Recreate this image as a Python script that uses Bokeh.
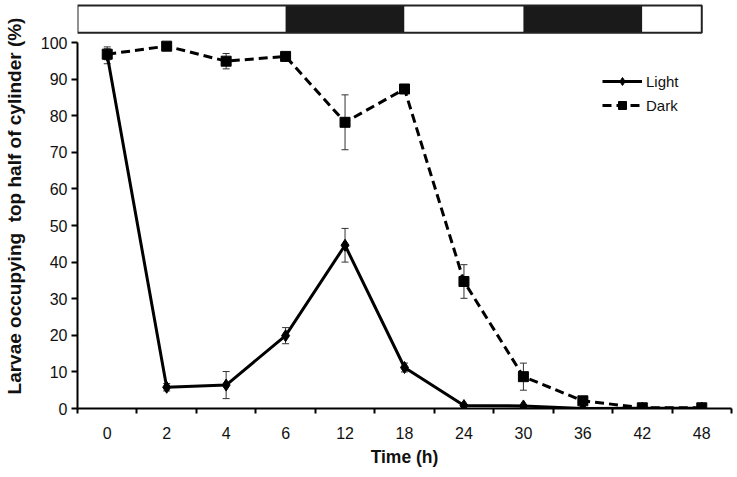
from bokeh.plotting import figure
from bokeh.models import (Range1d, FixedTicker, ColumnDataSource, Whisker, TeeHead,
                          Legend, LegendItem)
from bokeh.embed import file_html
from bokeh.resources import INLINE

# ---- data ----
times = ["0", "2", "4", "6", "12", "18", "24", "30", "36", "42", "48"]
light = [96.5, 5.8, 6.4, 19.9, 44.6, 11.2, 0.8, 0.7, 0.0, 0.1, 0.1]
light_err = [2.3, 1.0, 3.7, 2.2, 4.6, 1.2, 0.3, 0.3, 0.0, 0.0, 0.0]
dark = [96.8, 99.0, 94.9, 96.2, 78.2, 87.3, 34.7, 8.7, 2.1, 0.2, 0.2]
dark_err = [1.5, 0.5, 2.1, 0.8, 7.5, 1.0, 4.6, 3.7, 0.5, 0.0, 0.0]
y_ticks = [0, 10, 20, 30, 40, 50, 60, 70, 80, 90, 100]
phase_start = ["0", "6", "18", "30", "42"]
phase_end = ["6", "18", "30", "42", "48"]
phase_kind = ["light", "dark", "light", "dark", "light"]

FONT = "Liberation Sans"

xs = [i + 0.5 for i in range(len(times))]

p = figure(width=736, height=476, output_backend="svg", toolbar_location=None,
           x_range=Range1d(0, len(times)), y_range=Range1d(0, 110.66),
           min_border_left=73, min_border_right=5, min_border_top=3,
           min_border_bottom=68)
p.outline_line_color = None
p.xgrid.visible = False
p.ygrid.visible = False

# x axis: labels at centres, ticks at boundaries
p.xaxis.ticker = FixedTicker(ticks=xs, minor_ticks=list(range(len(times) + 1)))
p.xaxis.major_label_overrides = {x: t for x, t in zip(xs, times)}
p.xaxis.major_tick_line_color = None
p.xaxis.major_tick_out = 0
p.xaxis.major_tick_in = 0
p.xaxis.minor_tick_line_color = "black"
p.xaxis.minor_tick_line_width = 2
p.xaxis.minor_tick_out = 5
p.xaxis.minor_tick_in = 0
p.xaxis.axis_line_width = 2
p.xaxis.major_label_standoff = 13
p.xaxis.axis_label = "Time (h)"
p.xaxis.axis_label_standoff = 5

p.yaxis.ticker = FixedTicker(ticks=y_ticks)
p.yaxis.bounds = (0, 100)
p.yaxis.minor_tick_line_color = None
p.yaxis.major_tick_line_width = 2
p.yaxis.major_tick_out = 6
p.yaxis.major_tick_in = 0
p.yaxis.axis_line_width = 2
p.yaxis.major_label_standoff = 4
p.yaxis.axis_label = "Larvae occupying\u00a0 top half of cylinder (%)"
p.yaxis.axis_label_standoff = 13

for ax in (p.xaxis[0], p.yaxis[0]):
    ax.major_label_text_font = FONT
    ax.major_label_text_font_size = "16px"
    ax.major_label_text_color = "#111111"
    ax.axis_label_text_font = FONT
    ax.axis_label_text_font_style = "bold"
    ax.axis_label_text_color = "#111111"
p.xaxis.axis_label_text_font_size = "17.5px"
p.yaxis.axis_label_text_font_size = "19px"

# ---- photoperiod bar ----
def pos(lbl):
    return times.index(lbl) + 0.5

lefts = [0 if i == 0 else pos(s) for i, s in enumerate(phase_start)]
rights = [pos(e) for e in phase_end]
fills = ["white" if k == "light" else "#1a1a1a" for k in phase_kind]
p.quad(left=lefts, right=rights, bottom=102.7, top=110.1,
       fill_color=fills, line_color=None)
p.quad(left=[lefts[0]], right=[rights[-1]], bottom=102.7, top=110.1,
       fill_color=None, line_color="#222222", line_width=2)

# ---- error bars ----
ls = ColumnDataSource(dict(x=xs, y=light,
                           lo=[v - e for v, e in zip(light, light_err)],
                           hi=[v + e for v, e in zip(light, light_err)]))
ds = ColumnDataSource(dict(x=xs, y=dark,
                           lo=[v - e for v, e in zip(dark, dark_err)],
                           hi=[v + e for v, e in zip(dark, dark_err)]))
for src in (ls, ds):
    w = Whisker(source=src, base="x", lower="lo", upper="hi",
                line_color="#333333", line_width=1,
                upper_head=TeeHead(size=7, line_color="#333333", line_width=1),
                lower_head=TeeHead(size=7, line_color="#333333", line_width=1))
    p.add_layout(w)

# ---- series ----
r_dl = p.line("x", "y", source=ds, line_color="black", line_width=3,
              line_dash="9 5")
r_dm = p.scatter("x", "y", source=ds, marker="square", size=10,
                 fill_color="black", line_color="black")
r_ll = p.line("x", "y", source=ls, line_color="black", line_width=3)
r_lm = p.scatter("x", "y", source=ls, marker="diamond", size=12,
                 fill_color="black", line_color="black")

legend = Legend(items=[LegendItem(label="Light", renderers=[r_ll, r_lm]),
                       LegendItem(label="Dark", renderers=[r_dl, r_dm])],
                location=(525, 293), border_line_color=None,
                background_fill_alpha=0, padding=0, margin=0,
                glyph_width=40, glyph_height=20, spacing=4, label_standoff=4,
                label_text_font=FONT, label_text_font_size="15px",
                label_text_color="#111111")
p.add_layout(legend)

open("out.html", "w").write(file_html(p, INLINE))
